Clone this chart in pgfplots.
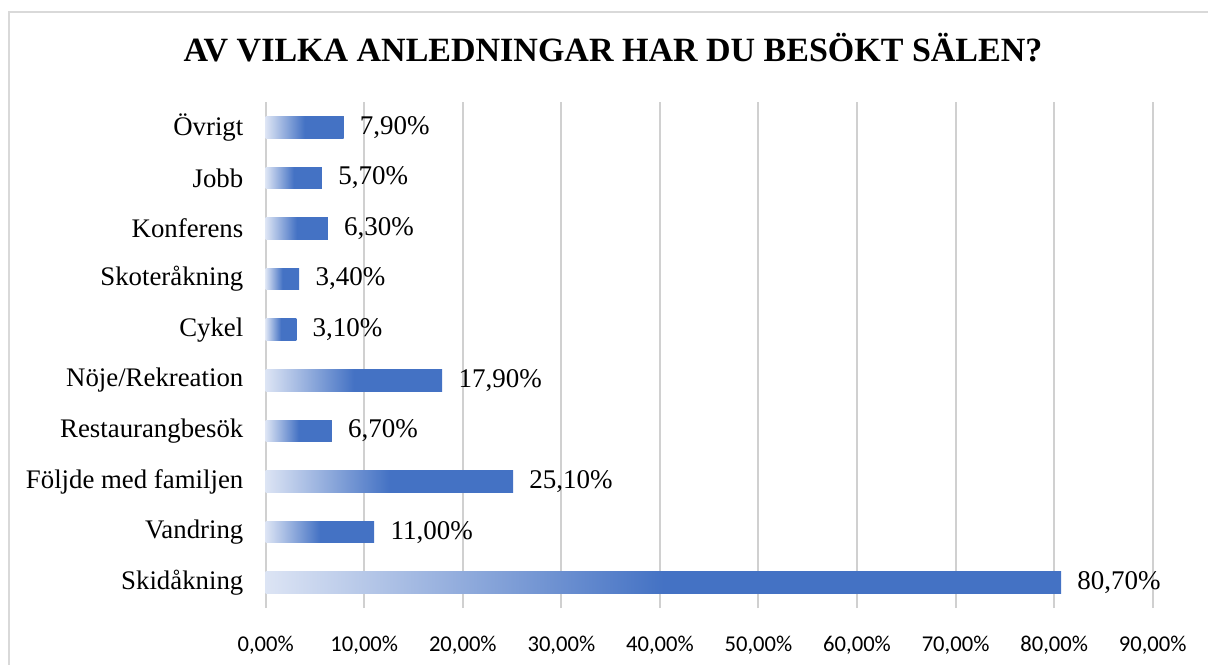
\documentclass[border=0pt]{standalone}
\usepackage{pgfplots}
\pgfplotsset{compat=1.18}
\usepackage{fontspec}
\setmainfont{Liberation Serif}
\newfontfamily\tickfont{Carlito}
\definecolor{bardark}{RGB}{68,114,196}
\definecolor{barlight}{RGB}{220,228,244}
\definecolor{gridgray}{RGB}{208,208,208}
\definecolor{bordergray}{RGB}{217,217,217}
\pgfdeclarehorizontalshading{barshade}{100bp}{color(0bp)=(barlight); color(25bp)=(barlight); color(50bp)=(bardark); color(100bp)=(bardark)}
\begin{document}
\begin{tikzpicture}[x=0.5pt,y=0.5pt]
\useasboundingbox (0,0) rectangle (1208,664);
\begin{scope}
\clip (0,0) rectangle (1208,664);
\draw[bordergray, line width=1pt] (9,-10) -- (9,652) -- (1220,652);
\end{scope}
\node[font=\fontsize{17}{19}\selectfont\bfseries, anchor=base] at (613,602) {AV VILKA ANLEDNINGAR HAR DU BESÖKT SÄLEN?};
\begin{axis}[
  at={(132.85pt,28pt)}, anchor=south west,
  scale only axis, width=443.5pt, height=253pt,
  xbar, bar width=10.85pt, bar shift=0pt,
  xmin=0, xmax=90, ymin=-0.5, ymax=9.5,
  xtick={0,10,...,90},
  xticklabels={0{,}00\%,10{,}00\%,20{,}00\%,30{,}00\%,40{,}00\%,50{,}00\%,60{,}00\%,70{,}00\%,80{,}00\%,90{,}00\%},
  ytick={0,...,9},
  yticklabels={Skidåkning,Vandring,Följde med familjen,Restaurangbesök,Nöje/Rekreation,Cykel,Skoteråkning,Konferens,Jobb,Övrigt},
  major tick length=0pt,
  axis line style={draw=none},
  xmajorgrids, major grid style={gridgray, line width=1pt},
  xticklabel style={font=\tickfont\fontsize{11.3}{13}\selectfont, text=black, anchor=base, inner sep=0pt, yshift=-21.5pt},
  yticklabel style={font=\fontsize{13.4}{16}\selectfont, text=black, anchor=east, inner sep=0pt, xshift=-11pt},
  nodes near coords={\pgfmathprintnumber[fixed, precision=2, fixed zerofill, use comma, assume math mode=true]{\pgfplotspointmeta}\%},
  every node near coord/.append style={font=\fontsize{13.5}{16}\selectfont, text=black, anchor=west, inner sep=0pt, xshift=8pt},
  point meta=x,
  clip=false,
  every axis plot/.append style={draw=none, shading=barshade},
]
\addplot coordinates {(80.7,0)};
\addplot coordinates {(11.0,1)};
\addplot coordinates {(25.1,2)};
\addplot coordinates {(6.7,3)};
\addplot coordinates {(17.9,4)};
\addplot coordinates {(3.1,5)};
\addplot coordinates {(3.4,6)};
\addplot coordinates {(6.3,7)};
\addplot coordinates {(5.7,8)};
\addplot coordinates {(7.9,9)};
\end{axis}
\end{tikzpicture}
\end{document}
